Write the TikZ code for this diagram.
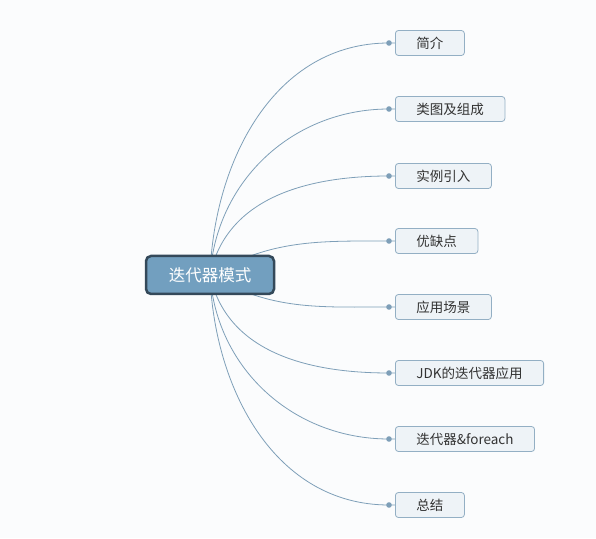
\documentclass[tikz,border=0pt]{standalone}
\usepackage{fontspec}
\newfontfamily\cjk{Noto Sans CJK SC}
\usetikzlibrary{positioning}
\definecolor{paper}{HTML}{FBFCFD}
\definecolor{rootfill}{HTML}{729FBF}
\definecolor{rootdraw}{HTML}{34495A}
\definecolor{topicfill}{HTML}{EEF3F7}
\definecolor{topicdraw}{HTML}{93AFC4}
\definecolor{topictext}{HTML}{333333}
\definecolor{linkcolor}{HTML}{7E9FB8}
\pgfdeclarelayer{bg}
\pgfsetlayers{bg,main}

\begin{document}
\begin{tikzpicture}[x=1pt, y=1pt,
    root/.style={rectangle, rounded corners=5pt, draw=rootdraw, line width=2.5pt, fill=rootfill, minimum width=128pt, minimum height=38pt, text=white, font=\cjk\fontsize{16.5}{18}\selectfont},
    topic/.style={rectangle, rounded corners=3pt, draw=topicdraw, line width=0.8pt, fill=topicfill, minimum height=25pt, inner xsep=21pt, anchor=west, text=topictext, font=\cjk\fontsize{13.5}{15}\selectfont},
    link/.style={draw=linkcolor, line width=0.8pt}
]
    \useasboundingbox (0,0) rectangle (596,538);

    % Central topic
    \node[root] (main) at (210,263) {迭代器模式};

    % Subtopics
    \node[topic] (intro) at (395,495) {简介};
    \node[topic] (uml) at (395,429) {类图及组成};
    \node[topic] (sample) at (395,362) {实例引入};
    \node[topic] (pros) at (395,297) {优缺点};
    \node[topic] (usage) at (395,231) {应用场景};
    \node[topic] (jdk) at (395,165) {JDK的迭代器应用};
    \node[topic] (foreach) at (395,99) {迭代器\&foreach};
    \node[topic] (summary) at (395,33) {总结};

    % Links
    \begin{pgfonlayer}{bg}
        \fill[paper] (0,0) rectangle (596,538);
        \foreach \name/\ang in {intro/88, uml/86, sample/78, pros/30, usage/-30, jdk/-78, foreach/-86, summary/-88} {
            \draw[link] (main.center) to[out=\ang, in=180] ([xshift=-6pt]\name.west) -- (\name.west);
            \fill[linkcolor] ([xshift=-6pt]\name.west) circle (2.8);
        }
    \end{pgfonlayer}
\end{tikzpicture}
\end{document}
